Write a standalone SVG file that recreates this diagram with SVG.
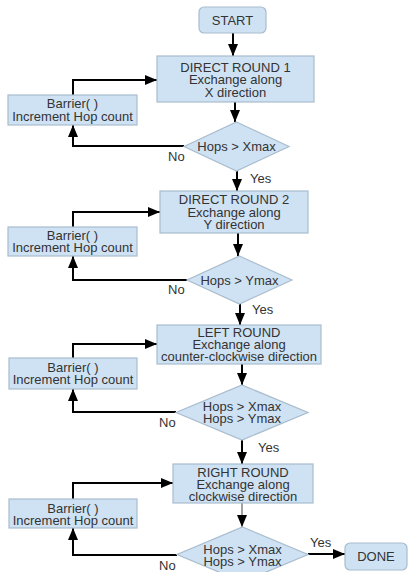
<svg xmlns="http://www.w3.org/2000/svg" width="408" height="572" viewBox="0 0 408 572">
<style>
.box{fill:#cfe2f3;stroke:#a8bccd;stroke-width:1.2}
.t{font-family:"Liberation Sans",Arial,sans-serif;font-size:13px;fill:#333;text-anchor:middle}
.l{font-family:"Liberation Sans",Arial,sans-serif;font-size:13px;fill:#333}
.c{fill:none;stroke:#000;stroke-width:2}
.thin{fill:none;stroke:#444;stroke-width:1}
</style>
<defs>
<marker id="ah" markerUnits="userSpaceOnUse" markerWidth="12" markerHeight="10" refX="12" refY="5" orient="auto"><path d="M0,0 L12,5 L0,10 Z" fill="#000"/></marker>
</defs>
<rect width="408" height="572" fill="#fff"/>
<g id="connectors">
<path class="c" d="M233,33 V56" marker-end="url(#ah)"/>
<path class="c" d="M73,95 V80 H157" marker-end="url(#ah)"/>
<path class="c" d="M235,102 V122" marker-end="url(#ah)"/>
<path class="c" d="M184,146 H73 V125" marker-end="url(#ah)"/>
<path class="c" d="M237,171 V191" marker-end="url(#ah)"/>
<path class="c" d="M73,227 V212 H160" marker-end="url(#ah)"/>
<path class="c" d="M238,233 V256" marker-end="url(#ah)"/>
<path class="c" d="M187,280 H73 V256" marker-end="url(#ah)"/>
<path class="c" d="M240,304 V325" marker-end="url(#ah)"/>
<path class="c" d="M73,358 V344 H157" marker-end="url(#ah)"/>
<path class="c" d="M242,364 V385" marker-end="url(#ah)"/>
<path class="c" d="M176,412 H73 V389" marker-end="url(#ah)"/>
<path class="c" d="M242,440 V464" marker-end="url(#ah)"/>
<path class="c" d="M73,499 V483 H173" marker-end="url(#ah)"/>
<path class="thin" d="M242,503 V527" marker-end="url(#ah)"/>
<path class="c" d="M177,555 H73 V528" marker-end="url(#ah)"/>
<path class="c" d="M308,554 H345" marker-end="url(#ah)"/>
<text class="l" x="168" y="160.5">No</text>
<text class="l" x="250" y="182.5">Yes</text>
<text class="l" x="168" y="293.5">No</text>
<text class="l" x="252" y="313.5">Yes</text>
<text class="l" x="159" y="426.5">No</text>
<text class="l" x="258" y="451.5">Yes</text>
<text class="l" x="159" y="569.5">No</text>
<text class="l" x="310" y="546.5">Yes</text>
</g>
<g id="start">
<rect class="box" x="199" y="7" width="67" height="26" rx="5"/>
<text class="t" x="232.5" y="24.5">START</text>
</g>
<g id="round1">
<rect class="box" x="157" y="56" width="157" height="46"/>
<text class="t" x="235.5" y="71.5">DIRECT ROUND 1</text>
<text class="t" x="235.5" y="84">Exchange along</text>
<text class="t" x="235.5" y="96.5">X direction</text>
</g>
<g id="barrier1">
<rect class="box" x="8" y="95" width="129" height="30"/>
<text class="t" x="72.5" y="107.5">Barrier( )</text>
<text class="t" x="72.5" y="120.5">Increment Hop count</text>
</g>
<g id="decision1">
<polygon class="box" points="236.5,122 289,146.5 236.5,171 184,146.5"/>
<text class="t" x="236.5" y="150.5">Hops &gt; Xmax</text>
</g>
<g id="round2">
<rect class="box" x="160" y="191" width="148" height="42"/>
<text class="t" x="234" y="203.5">DIRECT ROUND 2</text>
<text class="t" x="234" y="216.5">Exchange along</text>
<text class="t" x="234" y="228.5">Y direction</text>
</g>
<g id="barrier2">
<rect class="box" x="8" y="227" width="129" height="29"/>
<text class="t" x="72.5" y="239.5">Barrier( )</text>
<text class="t" x="72.5" y="252">Increment Hop count</text>
</g>
<g id="decision2">
<polygon class="box" points="239.5,256 292,280 239.5,304 187,280"/>
<text class="t" x="239.5" y="284.5">Hops &gt; Ymax</text>
</g>
<g id="leftround">
<rect class="box" x="157" y="325" width="164" height="39"/>
<text class="t" x="239" y="336.5">LEFT ROUND</text>
<text class="t" x="239" y="348.5">Exchange along</text>
<text class="t" x="239" y="361">counter-clockwise direction</text>
</g>
<g id="barrier3">
<rect class="box" x="9" y="358" width="128" height="31"/>
<text class="t" x="73" y="371.5">Barrier( )</text>
<text class="t" x="73" y="383.5">Increment Hop count</text>
</g>
<g id="decision3">
<polygon class="box" points="242,385 308,412.5 242,440 176,412.5"/>
<text class="t" x="242" y="410.5">Hops &gt; Xmax</text>
<text class="t" x="242" y="422.5">Hops &gt; Ymax</text>
</g>
<g id="rightround">
<rect class="box" x="173" y="464" width="140" height="39"/>
<text class="t" x="243" y="476.5">RIGHT ROUND</text>
<text class="t" x="243" y="488.5">Exchange along</text>
<text class="t" x="243" y="500.5">clockwise direction</text>
</g>
<g id="barrier4">
<rect class="box" x="9" y="499" width="128" height="29"/>
<text class="t" x="73" y="512.5">Barrier( )</text>
<text class="t" x="73" y="524.5">Increment Hop count</text>
</g>
<g id="decision4">
<polygon class="box" points="242.5,527 308,554.5 242.5,582 177,554.5"/>
<text class="t" x="242.5" y="553.5">Hops &gt; Xmax</text>
<text class="t" x="242.5" y="565.5">Hops &gt; Ymax</text>
</g>
<g id="done">
<rect class="box" x="345" y="543" width="62" height="27" rx="5"/>
<text class="t" x="376" y="561">DONE</text>
</g>
</svg>
